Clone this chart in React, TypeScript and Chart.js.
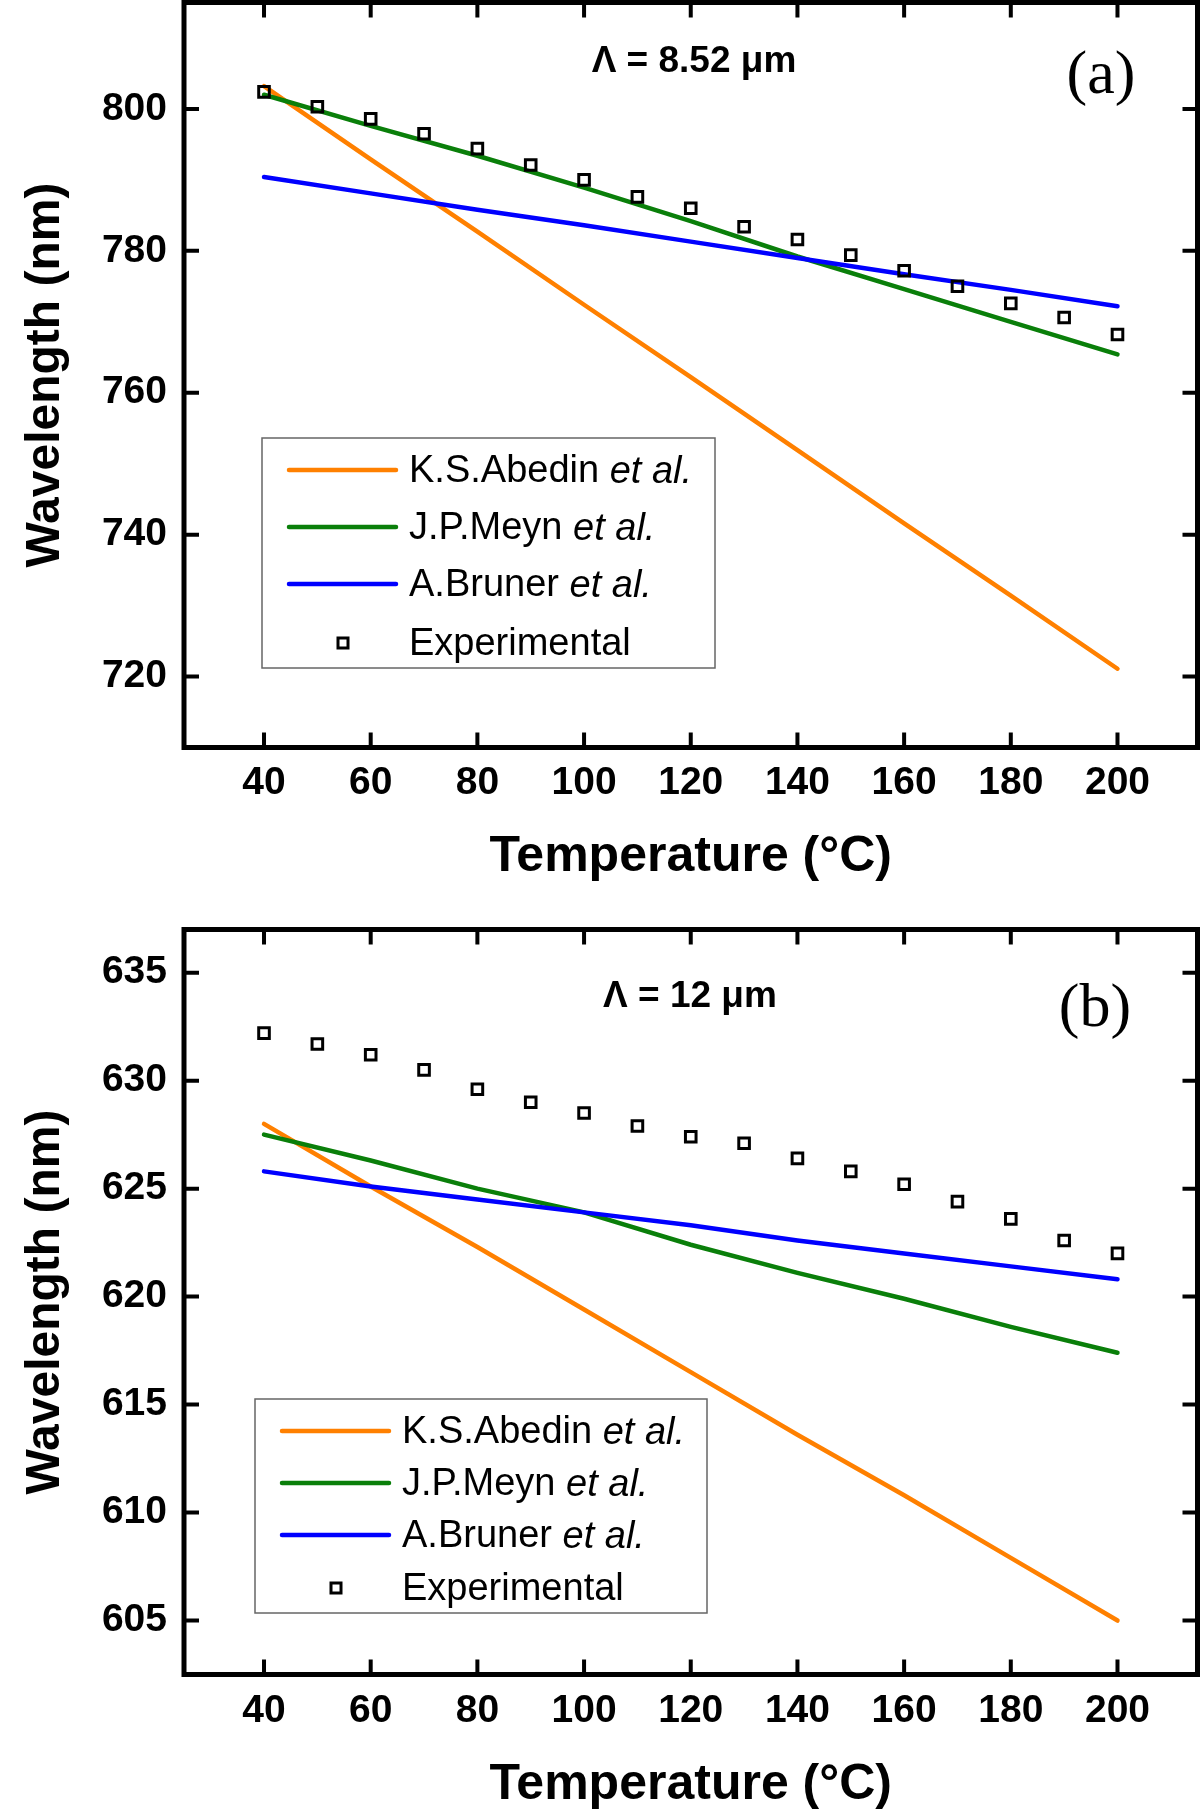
import { useEffect, useRef } from "react"
import { Chart, registerables } from "chart.js"

Chart.register(...registerables)

const FONT = "'Liberation Sans', Arial, sans-serif"
const SERIF = "'Liberation Serif', 'Times New Roman', serif"

// measured temperatures (°C)
const expTemps = [40, 50, 60, 70, 80, 90, 100, 110, 120, 130, 140, 150, 160, 170, 180, 190, 200]
// model curves sampled every 20 °C
const modelTemps = [40, 60, 80, 100, 120, 140, 160, 180, 200]

// panel (a): Λ = 8.52 µm
const expA = [802.4, 800.3, 798.6, 796.5, 794.4, 792.1, 790.0, 787.6, 786.0, 783.4, 781.6, 779.4, 777.2, 775.0, 772.6, 770.6, 768.2]
const abedinA = [803.2, 792.9, 782.7, 772.4, 762.2, 751.9, 741.6, 731.4, 721.1]
const meynA = [802.0, 797.6, 793.4, 788.9, 784.2, 779.2, 774.6, 770.0, 765.4]
const brunerA = [790.4, 788.1, 785.8, 783.6, 781.3, 779.0, 776.7, 774.5, 772.2]

// panel (b): Λ = 12 µm
const expB = [632.2, 631.7, 631.2, 630.5, 629.6, 629.0, 628.5, 627.9, 627.4, 627.1, 626.4, 625.8, 625.2, 624.4, 623.6, 622.6, 622.0]
const abedinB = [628.0, 625.1, 622.3, 619.4, 616.5, 613.6, 610.8, 607.9, 605.0]
const meynB = [627.5, 626.3, 625.0, 623.9, 622.4, 621.1, 619.9, 618.6, 617.4]
const brunerB = [625.8, 625.1, 624.5, 623.9, 623.3, 622.6, 622.0, 621.4, 620.8]

const authors = ["K.S.Abedin", "J.P.Meyn", "A.Bruner"]
const colors = ["#ff8000", "#0a7f0a", "#0000ff"]

type PanelProps = {
  top: number
  height: number
  padTop: number
  xAxisHeight: number
  xTickPad: number
  xTitlePad: number
  yMin: number
  yMax: number
  yStep: number
  exp: number[]
  models: number[][]
  lambda: string
  letter: string
  lambdaPos: [number, number]
  letterPos: [number, number]
  legend: { x: number; y: number; w: number; h: number; rows: number[] }
}

const pairs = (xs: number[], ys: number[]) => xs.map((x, i) => ({ x, y: ys[i] }))

function Panel(p: PanelProps) {
  const ref = useRef<HTMLCanvasElement>(null)

  useEffect(() => {
    if (!ref.current) return

    const decor = {
      id: "decor",
      afterDatasetsDraw(chart: any) {
        const { ctx, chartArea: a, scales } = chart
        ctx.save()
        ctx.strokeStyle = "#000"
        // inward ticks on all four sides
        ctx.lineWidth = 4
        ctx.beginPath()
        scales.x.ticks.forEach((t: any) => {
          const px = scales.x.getPixelForValue(t.value)
          ctx.moveTo(px, a.bottom)
          ctx.lineTo(px, a.bottom - 15)
          ctx.moveTo(px, a.top)
          ctx.lineTo(px, a.top + 15)
        })
        scales.y.ticks.forEach((t: any) => {
          const py = scales.y.getPixelForValue(t.value)
          ctx.moveTo(a.left, py)
          ctx.lineTo(a.left + 15, py)
          ctx.moveTo(a.right, py)
          ctx.lineTo(a.right - 15, py)
        })
        ctx.stroke()
        ctx.lineWidth = 5
        ctx.strokeRect(a.left, a.top, a.right - a.left, a.bottom - a.top)

        // legend
        const L = p.legend
        const bx = a.left + L.x
        const by = a.top + L.y
        ctx.lineWidth = 1.5
        ctx.strokeStyle = "#666"
        ctx.strokeRect(bx, by, L.w, L.h)
        ctx.textBaseline = "middle"
        ctx.textAlign = "left"
        ctx.fillStyle = "#000"
        authors.forEach((name, i) => {
          const ry = by + L.rows[i]
          ctx.strokeStyle = colors[i]
          ctx.lineWidth = 4.5
          ctx.lineCap = "round"
          ctx.beginPath()
          ctx.moveTo(bx + 27, ry)
          ctx.lineTo(bx + 134, ry)
          ctx.stroke()
          ctx.font = `38px ${FONT}`
          const lead = name + " "
          ctx.fillText(lead, bx + 147, ry + 2)
          const w = ctx.measureText(lead).width
          ctx.font = `italic 38px ${FONT}`
          ctx.fillText("et al.", bx + 147 + w, ry + 2)
        })
        const ey = by + L.rows[3]
        ctx.strokeStyle = "#000"
        ctx.lineWidth = 3
        ctx.strokeRect(bx + 81 - 5, ey - 5, 10, 10)
        ctx.font = `38px ${FONT}`
        ctx.fillText("Experimental", bx + 147, ey + 2)

        // annotations
        ctx.textAlign = "center"
        ctx.font = `bold 37px ${FONT}`
        ctx.fillText(p.lambda, a.left + p.lambdaPos[0], a.top + p.lambdaPos[1])
        ctx.font = `62px ${SERIF}`
        ctx.fillText(p.letter, a.left + p.letterPos[0], a.top + p.letterPos[1])
        ctx.restore()
      },
    }

    const chart = new Chart(ref.current, {
      type: "line",
      data: {
        datasets: [
          {
            label: "Experimental",
            data: pairs(expTemps, p.exp),
            showLine: false,
            pointStyle: "rect",
            pointRadius: 7.5,
            pointBorderWidth: 3,
            pointBorderColor: "#000",
            pointBackgroundColor: "rgba(0,0,0,0)",
            order: 0,
          },
          ...p.models.map((ys, i) => ({
            label: authors[i],
            data: pairs(modelTemps, ys),
            borderColor: colors[i],
            borderWidth: 4.5,
            borderCapStyle: "round" as const,
            pointRadius: 0,
            tension: 0,
            order: 3 - i,
          })),
        ],
      },
      options: {
        animation: false,
        responsive: true,
        maintainAspectRatio: false,
        layout: { autoPadding: false, padding: { top: p.padTop, right: 2.5, left: 0, bottom: 0 } },
        plugins: { legend: { display: false }, tooltip: { enabled: false } },
        scales: {
          x: {
            type: "linear",
            min: 25,
            max: 215,
            afterFit: (s: any) => {
              s.height = p.xAxisHeight
              s.paddingLeft = 0
              s.paddingRight = 0
            },
            grid: { display: false, drawTicks: false },
            border: { display: false },
            ticks: {
              stepSize: 20,
              includeBounds: false,
              autoSkip: false,
              maxRotation: 0,
              padding: p.xTickPad,
              color: "#000",
              font: { family: FONT, size: 39, weight: "bold" },
            },
            title: {
              display: true,
              text: "Temperature (°C)",
              color: "#000",
              font: { family: FONT, size: 50, weight: "bold" },
              padding: { top: 0, bottom: p.xTitlePad },
            },
          },
          y: {
            min: p.yMin,
            max: p.yMax,
            afterFit: (s: any) => {
              s.width = 184
              s.paddingTop = 0
              s.paddingBottom = 0
            },
            grid: { display: false, drawTicks: false },
            border: { display: false },
            ticks: {
              stepSize: p.yStep,
              includeBounds: false,
              padding: 17,
              color: "#000",
              font: { family: FONT, size: 39, weight: "bold" },
            },
            title: {
              display: true,
              text: "Wavelength (nm)",
              color: "#000",
              font: { family: FONT, size: 48, weight: "bold" },
              padding: { top: 17, bottom: 0 },
            },
          },
        },
      },
      plugins: [decor],
    })

    return () => {
      chart.destroy()
    }
  }, [])

  return (
    <div style={{ position: "absolute", left: 0, top: p.top, width: 1200, height: p.height }}>
      <canvas ref={ref}></canvas>
    </div>
  )
}

export default function App() {
  return (
    <div style={{ position: "absolute", left: 0, top: 0, width: 1200, height: 1809, background: "#fff" }}>
      <Panel
        top={0}
        height={905}
        padTop={2.5}
        xAxisHeight={157.5}
        xTickPad={12}
        xTitlePad={18}
        yMin={710}
        yMax={815}
        yStep={20}
        exp={expA}
        models={[abedinA, meynA, brunerA]}
        lambda="Λ = 8.52 μm"
        letter="(a)"
        lambdaPos={[510, 59.5]}
        letterPos={[917, 74.5]}
        legend={{ x: 78, y: 435.5, w: 453, h: 230, rows: [32, 89, 146, 205] }}
      />
      <Panel
        top={905}
        height={904}
        padTop={24.5}
        xAxisHeight={134.5}
        xTickPad={13}
        xTitlePad={-6}
        yMin={602.5}
        yMax={637}
        yStep={5}
        exp={expB}
        models={[abedinB, meynB, brunerB]}
        lambda="Λ = 12 μm"
        letter="(b)"
        lambdaPos={[506, 67.5]}
        letterPos={[911, 80.5]}
        legend={{ x: 71, y: 469.5, w: 452, h: 214, rows: [32, 84, 136, 189] }}
      />
    </div>
  )
}
